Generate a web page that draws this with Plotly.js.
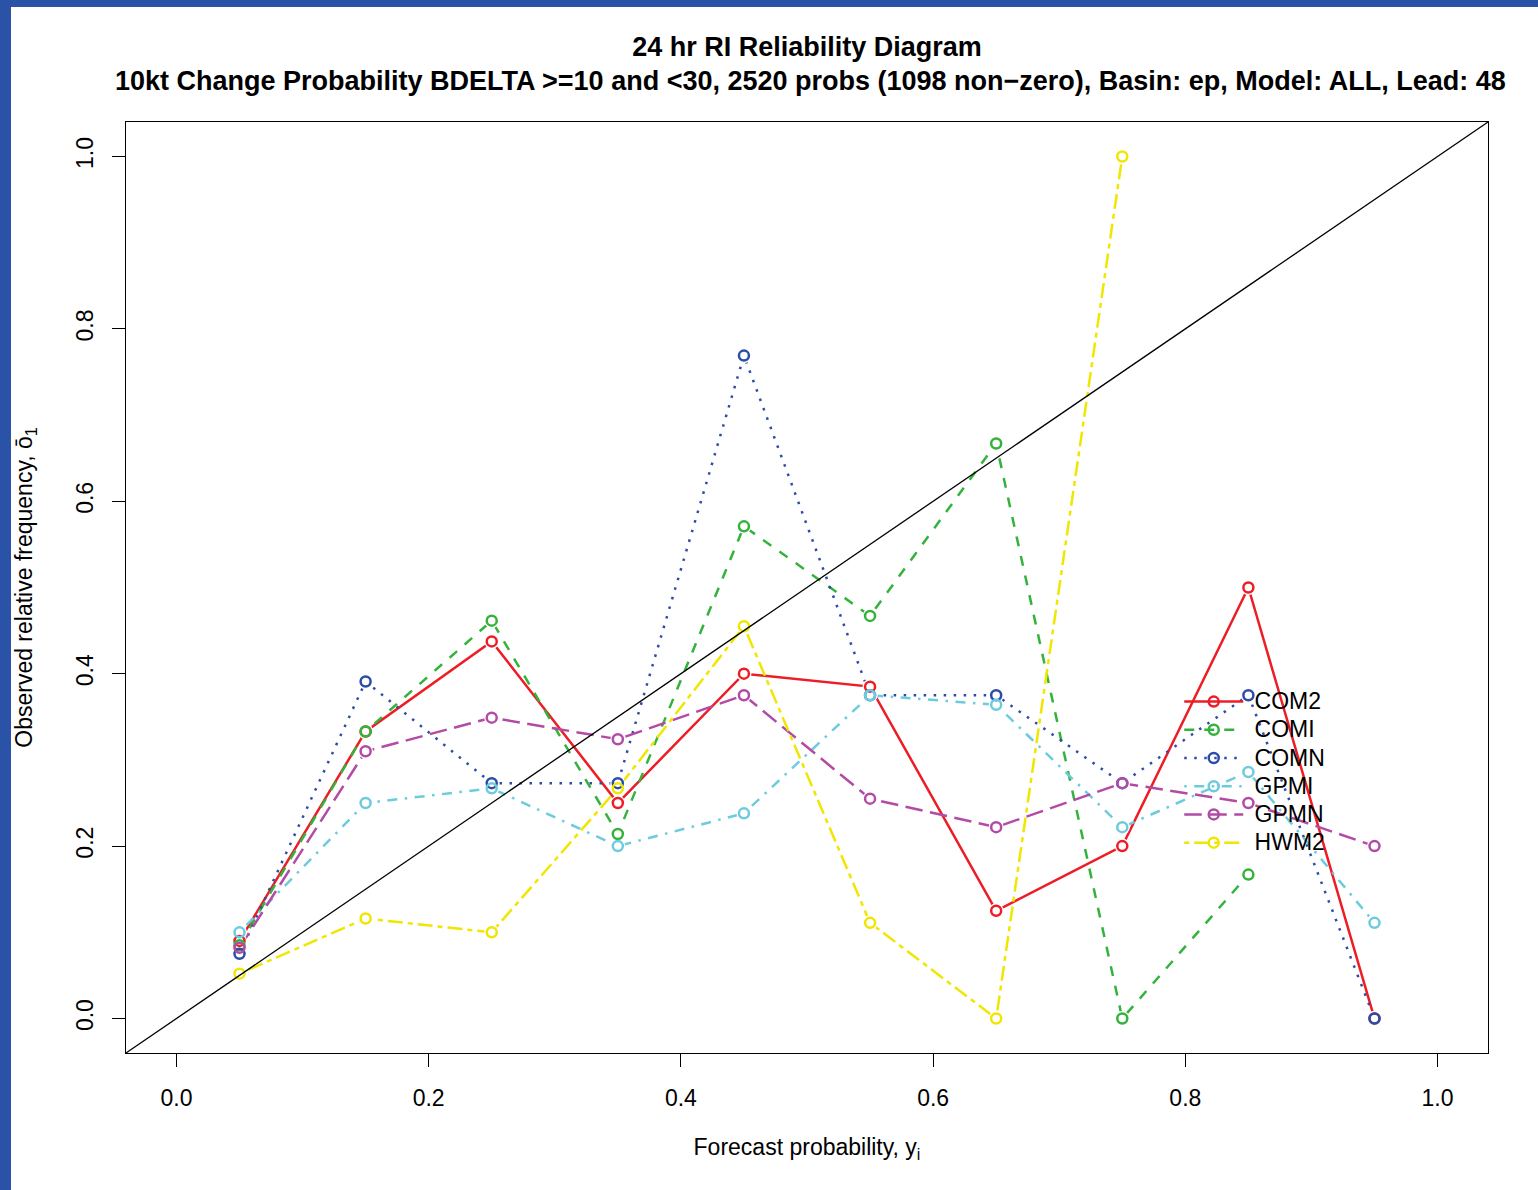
<!DOCTYPE html>
<html>
<head>
<meta charset="utf-8">
<script src="https://cdn.plot.ly/plotly-3.0.1.min.js"></script>
<style>
  html, body { margin: 0; padding: 0; background: #2a52a6; width: 1538px; height: 1190px; overflow: hidden; }
  #chart { position: absolute; left: 11px; top: 7px; width: 1527px; height: 1183px; background: #ffffff; }
</style>
</head>
<body>
<div id="chart"></div>
<script>
// ---- data ----
const forecastBins = [0.05, 0.15, 0.25, 0.35, 0.45, 0.55, 0.65, 0.75, 0.85, 0.95];
const seriesNames = ["COM2", "COMI", "COMN", "GPMI", "GPMN", "HWM2"];
const com2 = [0.090, 0.333, 0.4375, 0.250, 0.400, 0.385, 0.125, 0.200, 0.500, 0.000];
const comi = [0.085, 0.333, 0.4615, 0.214, 0.571, 0.467, 0.667, 0.000, 0.167, null];
const comn = [0.075, 0.391, 0.273, 0.273, 0.769, 0.375, 0.375, 0.273, 0.375, 0.000];
const gpmi = [0.100, 0.250, 0.267, 0.200, 0.238, 0.375, 0.364, 0.222, 0.286, 0.111];
const gpmn = [0.082, 0.310, 0.349, 0.324, 0.375, 0.255, 0.222, 0.273, 0.250, 0.200];
const hwm2 = [0.052, 0.116, 0.100, 0.267, 0.455, 0.111, 0.000, 1.000, null, null];
const tickValues = [0, 0.2, 0.4, 0.6, 0.8, 1.0];
const tickLabels = ["0.0", "0.2", "0.4", "0.6", "0.8", "1.0"];

const seriesValues = [com2, comi, comn, gpmi, gpmn, hwm2];
const seriesColors = ["#EE1C25", "#33B33B", "#2B4DA8", "#6CCCDD", "#B34BA6", "#F0E600"];
const seriesDash = ["solid", "10px,10px", "2.5px,7.5px", "2.5px,7.5px,10px,7.5px", "17.5px,7.5px", "5px,5px,15px,5px"];

const FONT = "Liberation Sans, Arial, Helvetica, sans-serif";
const LW = 2.5;

const traces = [];
// lines
seriesNames.forEach((name, i) => {
  traces.push({
    type: "scatter", mode: "lines", x: forecastBins, y: seriesValues[i],
    line: { color: seriesColors[i], width: LW, dash: seriesDash[i] },
    connectgaps: false, showlegend: false, hoverinfo: "skip", legendgroup: name
  });
});
// white discs (gap around points, like R type="b")
seriesNames.forEach((name, i) => {
  traces.push({
    type: "scatter", mode: "markers", x: forecastBins, y: seriesValues[i],
    marker: { symbol: "circle", size: 15, color: "#ffffff", line: { width: 0 } },
    showlegend: false, hoverinfo: "skip", legendgroup: name
  });
});
// open circle markers
seriesNames.forEach((name, i) => {
  traces.push({
    type: "scatter", mode: "markers", x: forecastBins, y: seriesValues[i],
    marker: { symbol: "circle-open", size: 10, color: seriesColors[i], line: { width: LW, color: seriesColors[i] } },
    showlegend: false, name: name, legendgroup: name
  });
});
// legend entries
seriesNames.forEach((name, i) => {
  traces.push({
    type: "scatter", mode: "lines+markers", x: [null], y: [null],
    name: '<span style="font-size:23px">\u00a0' + name + '</span>',
    line: { color: seriesColors[i], width: LW, dash: seriesDash[i] },
    marker: { symbol: "circle-open", size: 10, color: seriesColors[i], line: { width: LW, color: seriesColors[i] } },
    showlegend: true, legendgroup: name
  });
});

const axisCommon = {
  range: [-0.04, 1.04],
  tickmode: "array", tickvals: tickValues, ticktext: tickLabels,
  showgrid: false, zeroline: false,
  showline: true, linecolor: "#000000", linewidth: 1, mirror: true,
  ticks: "outside", ticklen: 13, tickwidth: 1, tickcolor: "#000000",
  tickfont: { family: FONT, size: 23, color: "#000000" },
  automargin: false
};

const layout = {
  width: 1527, height: 1183,
  margin: { l: 115, r: 50, t: 115, b: 137 },
  paper_bgcolor: "#ffffff", plot_bgcolor: "#ffffff",
  font: { family: FONT, color: "#000000" },
  title: {
    text: "<b>24 hr RI Reliability Diagram</b>",
    font: { family: FONT, size: 27, color: "#000000" },
    xref: "paper", x: 0.5, xanchor: "center",
    yref: "container", y: 1 - 40 / 1183, yanchor: "middle"
  },
  annotations: [{
    text: "<b>10kt Change Probability BDELTA >=10 and <30, 2520 probs (1098 non\u2212zero), Basin: ep, Model: ALL, Lead: 48</b>",
    xref: "paper", yref: "paper", x: 0.5025, y: (1046 - 74) / 931,
    xanchor: "center", yanchor: "middle", showarrow: false,
    font: { family: FONT, size: 27, color: "#000000" }
  }],
  xaxis: Object.assign({}, axisCommon, {
    ticklabelstandoff: 11,
    title: { text: "Forecast probability, y<sub>i</sub>", font: { family: FONT, size: 23, color: "#000000" }, standoff: 29 }
  }),
  yaxis: Object.assign({}, axisCommon, {
    tickangle: -90,
    ticklabelstandoff: 10,
    title: { text: "Observed relative frequency, \u014D<sub>1</sub>", font: { family: FONT, size: 23, color: "#000000" }, standoff: 34 }
  }),
  shapes: [{
    type: "line", xref: "paper", yref: "paper", x0: 0, y0: 0, x1: 1, y1: 1,
    line: { color: "#000000", width: 1.3 }, layer: "above"
  }],
  showlegend: true,
  legend: {
    x: 0.7733, y: 0.398, xanchor: "left", yanchor: "top",
    bgcolor: "rgba(0,0,0,0)", borderwidth: 0,
    font: { family: FONT, size: 19.4, color: "#000000" },
    itemwidth: 59, tracegroupgap: 0, traceorder: "normal"
  }
};

Plotly.newPlot("chart", traces, layout, { displayModeBar: false, staticPlot: true });
</script>
</body>
</html>
